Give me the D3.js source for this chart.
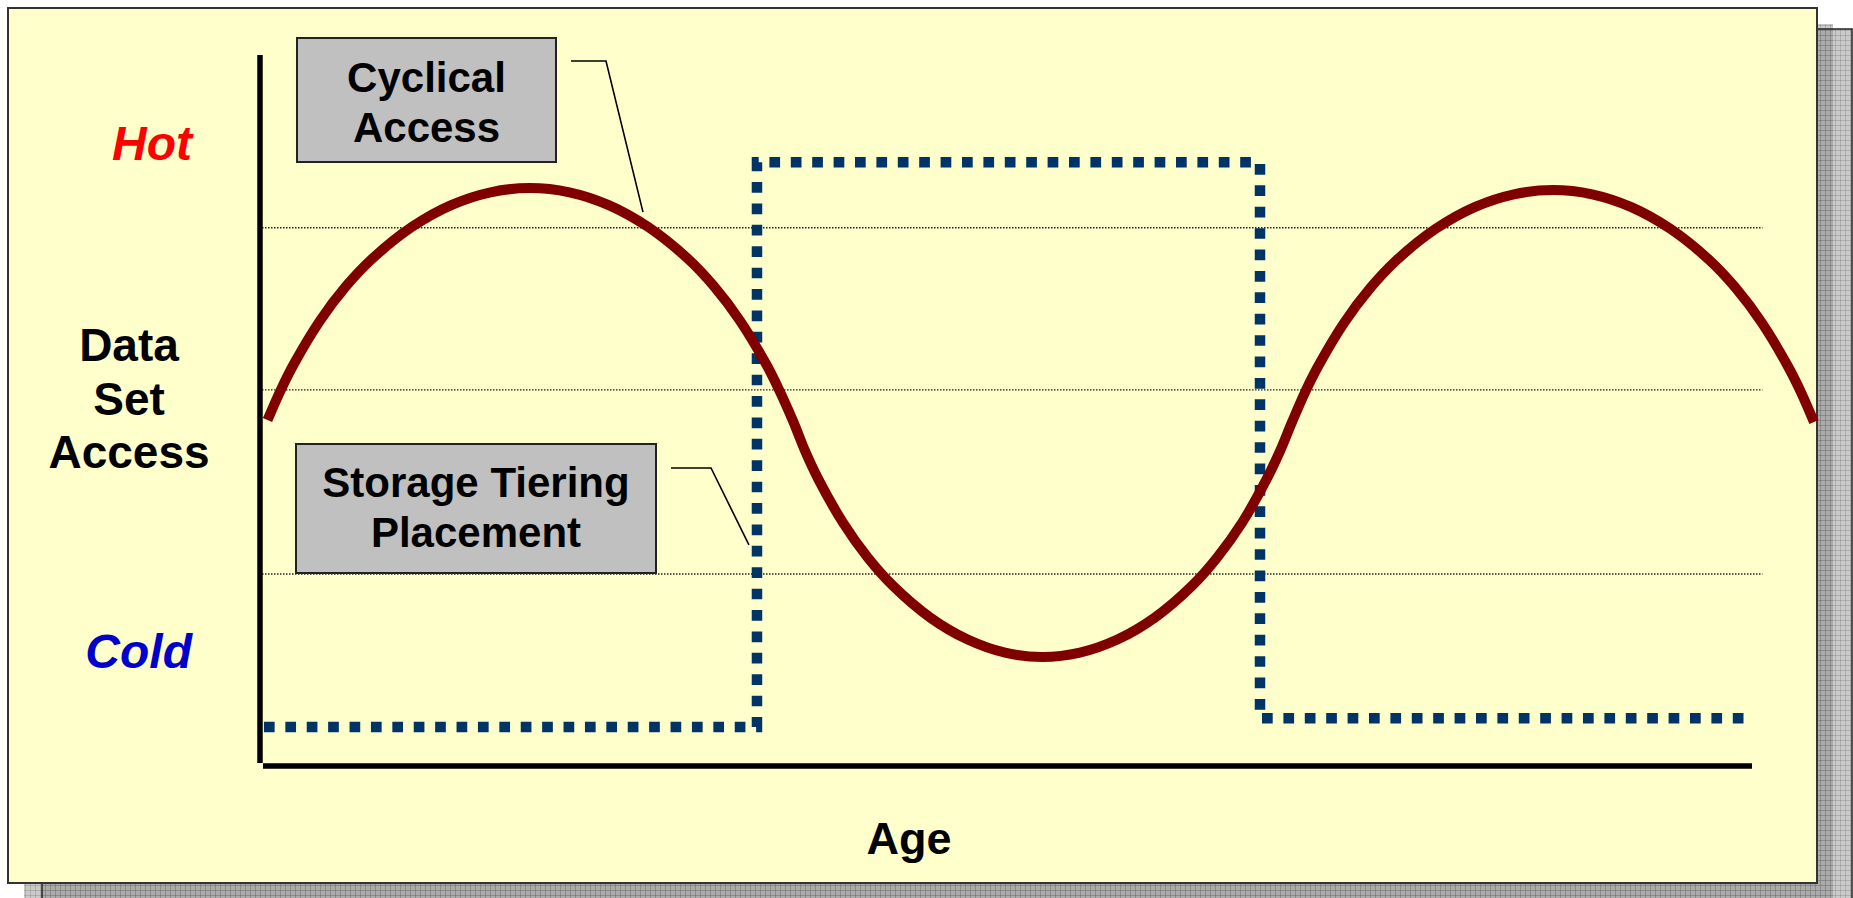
<!DOCTYPE html>
<html>
<head>
<meta charset="utf-8">
<script src="https://cdn.jsdelivr.net/npm/d3@7"></script>
<style>
  html, body { margin: 0; padding: 0; background: #ffffff; }
  svg { display: block; }
  text { font-family: "Liberation Sans", Arial, Helvetica, sans-serif; font-weight: bold; }
</style>
</head>
<body>
<svg id="chart" width="1853" height="898"></svg>
<script>
// ---- data (age 0..100 along x, access 0..100 along y) ----
var cycleAge = [0.37, 1.25, 2.13, 3.89, 5.65, 7.42, 10.06, 12.70, 15.34, 17.99, 20.63, 23.27, 25.91, 28.56, 30.32, 32.08, 33.84, 34.72,
  35.64,
  36.48, 37.31, 38.99, 40.66, 42.34, 44.85, 47.36, 49.87, 52.38, 54.89, 57.41, 59.92, 62.43, 64.10, 65.78, 67.45, 68.29,
  69.13,
  70.00, 70.88, 72.63, 74.38, 76.13, 78.76, 81.39, 84.02, 86.64, 89.27, 91.90, 94.53, 97.16, 98.91, 100.66, 102.41, 103.29, 104.16];
var cycleAccess = [48.66, 52.84, 56.50, 62.63, 67.50, 71.39, 75.82, 78.89, 80.69, 81.29, 80.69, 78.89, 75.82, 71.39, 67.50, 62.63, 56.50, 52.84,
  48.52,
  44.15, 40.45, 34.23, 29.31, 25.36, 20.87, 17.78, 15.94, 15.33, 15.94, 17.78, 20.87, 25.36, 29.31, 34.23, 40.45, 44.15,
  48.38,
  52.56, 56.22, 62.35, 67.22, 71.11, 75.54, 78.61, 80.41, 81.01, 80.41, 78.61, 75.54, 71.11, 67.22, 62.35, 56.22, 52.56, 48.38];

var tierAge = [0.13, 33.22, 33.22, 66.98, 66.98, 100.07];
var tierAccess = [5.5, 5.5, 84.9, 84.9, 6.7, 6.7];

var gridLevels = [75.7, 52.9, 27.0];

var levelLabels = ["Hot", "Cold"];
var levelValues = [87.6, 16.2];
var levelColors = ["#ff0000", "#0000cc"];

var yTitleLines = ["Data", "Set", "Access"];
var xTitle = "Age";

var calloutLines = [["Cyclical", "Access"], ["Storage Tiering", "Placement"]];
var calloutTargetAge = [25.57, 32.68];
var calloutTargetAccess = [77.9, 31.1];

// ---- layout ----
var svg = d3.select("#chart");

var x = d3.scaleLinear().domain([0, 100]).range([262, 1752]);
var y = d3.scaleLinear().domain([0, 100]).range([766, 55]);

var defs = svg.append("defs");
var pat = defs.append("pattern")
    .attr("id", "shadowTex")
    .attr("width", 5).attr("height", 5)
    .attr("patternUnits", "userSpaceOnUse");
pat.append("rect").attr("width", 5).attr("height", 5).attr("fill", "rgb(128,128,128)").attr("fill-opacity", 0.42);
pat.append("rect").attr("width", 5).attr("height", 1).attr("fill", "rgb(90,90,90)").attr("fill-opacity", 0.25);
pat.append("rect").attr("width", 1).attr("height", 5).attr("fill", "rgb(90,90,90)").attr("fill-opacity", 0.25);

// double drop shadow behind the panel
svg.append("rect")
    .attr("x", 24).attr("y", 24).attr("width", 1809).attr("height", 880)
    .attr("fill", "url(#shadowTex)");
svg.append("rect")
    .attr("x", 42).attr("y", 29).attr("width", 1810).attr("height", 880)
    .attr("fill", "url(#shadowTex)")
    .attr("stroke", "#222").attr("stroke-width", 1.5);

// panel
svg.append("rect")
    .attr("x", 8).attr("y", 8).attr("width", 1809).attr("height", 875)
    .attr("fill", "#ffffcc")
    .attr("stroke", "#333").attr("stroke-width", 2);

var plot = svg.append("g");

// dotted reference lines
plot.selectAll("line.grid")
    .data(gridLevels)
  .enter().append("line")
    .attr("class", "grid")
    .attr("x1", x(0)).attr("x2", x(100.7))
    .attr("y1", function(d) { return y(d); })
    .attr("y2", function(d) { return y(d); })
    .attr("stroke", "#222")
    .attr("stroke-width", 1.4)
    .attr("stroke-dasharray", "1.5 1.5");

// axes
plot.append("line")
    .attr("x1", x(0) - 2).attr("x2", x(0) - 2)
    .attr("y1", y(100)).attr("y2", y(0) - 3)
    .attr("stroke", "#000").attr("stroke-width", 5.5);
plot.append("line")
    .attr("x1", x(0) + 1).attr("x2", x(100))
    .attr("y1", y(0)).attr("y2", y(0))
    .attr("stroke", "#000").attr("stroke-width", 5.5);

// tiering placement step line
var tierPts = tierAge.map(function(a, i) { return [a, tierAccess[i]]; });
var stepLine = d3.line()
    .x(function(d) { return x(d[0]); })
    .y(function(d) { return y(d[1]); });
plot.append("path")
    .datum(tierPts)
    .attr("d", stepLine)
    .attr("fill", "none")
    .attr("stroke", "#003366")
    .attr("stroke-width", 10.5)
    .attr("stroke-dasharray", "10.7 10.7")
    .attr("stroke-linejoin", "miter");

// cyclical access curve
var cyclePts = cycleAge.map(function(a, i) { return [a, cycleAccess[i]]; });
var curve = d3.line()
    .x(function(d) { return x(d[0]); })
    .y(function(d) { return y(d[1]); })
    .curve(d3.curveCatmullRom.alpha(0.5));
plot.append("path")
    .datum(cyclePts)
    .attr("d", curve)
    .attr("fill", "none")
    .attr("stroke", "#800000")
    .attr("stroke-width", 10)
    .attr("stroke-linecap", "butt");

// Hot / Cold level labels
plot.selectAll("text.level")
    .data(levelLabels)
  .enter().append("text")
    .attr("class", "level")
    .attr("x", 192)
    .attr("y", function(d, i) { return y(levelValues[i]) + 17; })
    .attr("text-anchor", "end")
    .attr("font-size", 48)
    .attr("font-style", "italic")
    .attr("fill", function(d, i) { return levelColors[i]; })
    .text(function(d) { return d; });

// axis titles
svg.append("text")
    .attr("x", 129).attr("y", 361)
    .attr("text-anchor", "middle")
    .attr("font-size", 46)
    .attr("fill", "#000")
  .selectAll("tspan")
    .data(yTitleLines)
  .enter().append("tspan")
    .attr("x", 129)
    .attr("dy", function(d, i) { return i === 0 ? 0 : 53.5; })
    .text(function(d) { return d; });

svg.append("text")
    .attr("x", 909).attr("y", 854)
    .attr("text-anchor", "middle")
    .attr("font-size", 45)
    .attr("fill", "#000")
    .text(xTitle);

// callout boxes with leader lines
var calloutBoxes = [
  { x: 297, y: 38, w: 259, h: 124, lead: [[571, 61], [606, 61]], base: 92 },
  { x: 296, y: 444, w: 360, h: 129, lead: [[671, 468], [711, 468]], base: 497 }
];

calloutBoxes.forEach(function(b, i) {
  var g = svg.append("g");
  g.append("rect")
      .attr("x", b.x).attr("y", b.y).attr("width", b.w).attr("height", b.h)
      .attr("fill", "#c0c0c0")
      .attr("stroke", "#222").attr("stroke-width", 2);

  var t = g.append("text")
      .attr("text-anchor", "middle")
      .attr("font-size", 42)
      .attr("fill", "#000");
  t.selectAll("tspan")
      .data(calloutLines[i])
    .enter().append("tspan")
      .attr("x", b.x + b.w / 2)
      .attr("y", function(d, j) { return b.base + j * 50; })
      .text(function(d) { return d; });

  var pts = b.lead.concat([[x(calloutTargetAge[i]), y(calloutTargetAccess[i])]]);
  g.append("path")
      .attr("d", d3.line()(pts))
      .attr("fill", "none")
      .attr("stroke", "#000")
      .attr("stroke-width", 1.6);
});
</script>
</body>
</html>
